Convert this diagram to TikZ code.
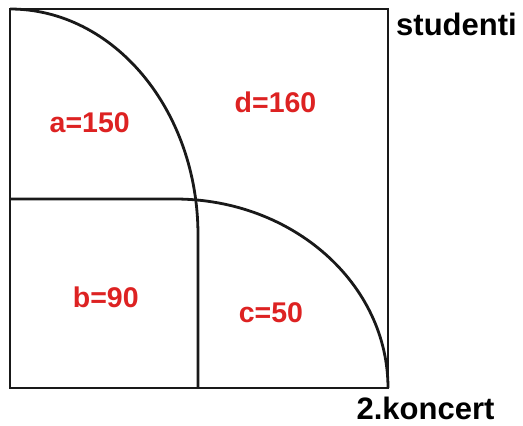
\documentclass[tikz,border=0pt]{standalone}
\usepackage{fontspec}
\setmainfont{Liberation Sans}
\definecolor{lblred}{HTML}{DD2222}
\begin{document}
\begin{tikzpicture}[x=1pt,y=-1pt,
  line/.style={line width=2.8pt,black!90},
  val/.style={anchor=base,text=lblred,font=\fontsize{28.5}{30}\selectfont\bfseries,inner sep=0pt},
  axis/.style={anchor=base,text=black,font=\fontsize{31}{33}\selectfont\bfseries,inner sep=0pt}]
\useasboundingbox (0,0) rectangle (523,426);
\coordinate (tl) at (10,9);
\coordinate (br) at (388,388);
\coordinate (ml) at (10,199);
\coordinate (hb) at (175,199);
\coordinate (vbot) at (198,388);
\draw[line] (tl) rectangle (br);
% first shape: arc from top-left corner down to vertical line
\draw[line] (tl) arc[start angle=-90,end angle=0,x radius=188,y radius=226] -- (vbot);
% second shape: horizontal line then arc to bottom-right corner
\draw[line] (ml) -- (hb) arc[start angle=-90,end angle=0,x radius=213,y radius=189];
\node[val] (a) at (89.7,132.7) {a=150};
\node[val] (d) at (275.5,112.7) {d=160};
\node[val] (b) at (105.8,307.3) {b=90};
\node[val] (c) at (271,322.3) {c=50};
\node[axis] (s) at (456.5,35) {studenti};
\node[axis] (k) at (425.5,419.3) {2.koncert};
\end{tikzpicture}
\end{document}
